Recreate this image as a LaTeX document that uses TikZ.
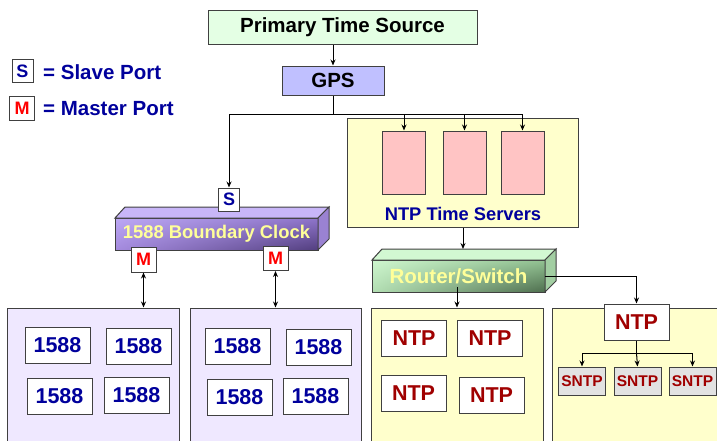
\documentclass[tikz,border=0pt]{standalone}
\usepackage{fontspec}
\setmainfont{Liberation Sans}
\usetikzlibrary{arrows.meta,shadings}

\definecolor{boxline}{HTML}{404040}
\definecolor{navy}{HTML}{00009C}
\definecolor{darkred}{HTML}{A00000}
\definecolor{srcgreen}{HTML}{E4FFE4}
\definecolor{gpsblue}{HTML}{C0C0FF}
\definecolor{paleyellow}{HTML}{FFFFCC}
\definecolor{palepink}{HTML}{FFC4C4}
\definecolor{palelilac}{HTML}{EFE8FF}
\definecolor{sntpgray}{HTML}{E2E2E2}
\definecolor{clocktop}{HTML}{C8B6F8}
\definecolor{clockside}{HTML}{9A82D2}
\definecolor{clockul}{HTML}{BCA8F4}
\definecolor{clockur}{HTML}{8E74CA}
\definecolor{clockll}{HTML}{A48ADE}
\definecolor{clocklr}{HTML}{523E7E}
\definecolor{routertop}{HTML}{D2F8D2}
\definecolor{routerside}{HTML}{A2CEA2}
\definecolor{routerul}{HTML}{CEF6CE}
\definecolor{routerur}{HTML}{92C292}
\definecolor{routerll}{HTML}{B2DEB2}
\definecolor{routerlr}{HTML}{4E6E4E}
\definecolor{labelyellow}{HTML}{FFFF99}

\tikzset{
  box/.style={draw=boxline, line width=1pt, inner sep=0pt,
    font=\bfseries\fontsize{20.5}{24}\selectfont},
  portbox/.style={box, fill=white, minimum width=21pt, minimum height=23pt,
    font=\bfseries\fontsize{18}{20}\selectfont},
  panel/.style={box, minimum width=172pt, minimum height=134pt},
  ieeebox/.style={box, fill=white, minimum width=65pt, minimum height=36pt,
    text=navy, font=\bfseries\fontsize{21.5}{24}\selectfont},
  ntpbox/.style={box, fill=white, minimum width=65pt, minimum height=36pt,
    text=darkred, font=\bfseries\fontsize{21.5}{24}\selectfont},
  sntpbox/.style={box, fill=sntpgray, minimum width=47pt, minimum height=28pt,
    text=darkred, font=\bfseries\fontsize{15.5}{18}\selectfont},
  serverbox/.style={box, fill=palepink, minimum width=43pt, minimum height=63pt},
  link/.style={line width=1pt, -{Stealth[length=6pt,width=5pt]}},
  twoway/.style={line width=1pt, {Stealth[length=6pt,width=5pt]}-{Stealth[length=6pt,width=5pt]}}
}

\begin{document}
\begin{tikzpicture}[x=1pt, y=-1pt]
  \useasboundingbox (0,0) rectangle (717,440);

  % Legend
  \node[portbox, text=navy] (legs) at (22.5,71) {S};
  \node[portbox, text=red, minimum width=25pt, minimum height=24pt] (legm) at (22,108) {M};
  \node[anchor=west, inner sep=0pt, text=navy, font=\bfseries\fontsize{20.5}{24}\selectfont]
    (slave) at (43,72) {= Slave Port};
  \node[anchor=west, inner sep=0pt, text=navy, font=\bfseries\fontsize{20.5}{24}\selectfont]
    (master) at (43,109) {= Master Port};

  % Top of the tree
  \node[box, fill=srcgreen, minimum width=269pt, minimum height=34pt] (pts) at (342.5,27) {Primary Time Source};
  \node[box, fill=gpsblue, minimum width=102pt, minimum height=29pt] (gps) at (333,80.5) {GPS};

  % NTP time servers
  \node[box, fill=paleyellow, minimum width=231pt, minimum height=109pt] (ntpsrv) at (462.5,172.5) {};
  \node[serverbox] (srv1) at (404,162.5) {};
  \node[serverbox] (srv2) at (464.5,162.5) {};
  \node[serverbox] (srv3) at (522.5,162.5) {};
  \node[text=navy, inner sep=0pt, font=\bfseries\fontsize{18.3}{22}\selectfont] (srvlabel) at (463,214) {NTP Time Servers};

  % Boundary clock (3D bar)
  \shade[upper left=clockul, upper right=clockur, lower left=clockll, lower right=clocklr]
    (115,218) rectangle (318,250);
  \draw[boxline, line width=1pt] (115,218) rectangle (318,250);
  \filldraw[fill=clocktop, draw=boxline, line width=1pt] (115,218) -- (125,207) -- (329,207) -- (318,218) -- cycle;
  \filldraw[fill=clockside, draw=boxline, line width=1pt] (318,218) -- (329,207) -- (329,239) -- (318,250) -- cycle;
  \node[minimum width=203pt, minimum height=32pt, inner sep=0pt, text=labelyellow,
    font=\bfseries\fontsize{18.4}{22}\selectfont] (clock) at (216.5,234) {1588 Boundary Clock};

  % Ports on the boundary clock
  \node[portbox, text=navy] (sport) at (229,199.5) {S};
  \node[portbox, text=red, minimum width=25pt, minimum height=25pt] (mport1) at (143.5,259.5) {M};
  \node[portbox, text=red, minimum width=25pt, minimum height=24pt] (mport2) at (275.5,258.5) {M};

  % Router/Switch (3D bar)
  \shade[upper left=routerul, upper right=routerur, lower left=routerll, lower right=routerlr]
    (372,260) rectangle (545,292);
  \draw[boxline, line width=1pt] (372,260) rectangle (545,292);
  \filldraw[fill=routertop, draw=boxline, line width=1pt] (372,260) -- (382,249) -- (556,249) -- (545,260) -- cycle;
  \filldraw[fill=routerside, draw=boxline, line width=1pt] (545,260) -- (556,249) -- (556,281) -- (545,292) -- cycle;
  \node[minimum width=173pt, minimum height=32pt, inner sep=0pt, text=labelyellow,
    font=\bfseries\fontsize{20.5}{24}\selectfont] (router) at (458.5,276) {Router/Switch};

  % Bottom panels
  \node[panel, fill=palelilac] (p1) at (93,375) {};
  \node[panel, fill=palelilac, minimum width=171pt] (p2) at (275.5,375) {};
  \node[panel, fill=paleyellow] (p3) at (457,375) {};
  \node[panel, fill=paleyellow, minimum width=175pt] (p4) at (639.5,375) {};

  % 1588 clocks
  \node[ieeebox] (c11) at (57.5,345) {1588};
  \node[ieeebox] (c12) at (138.5,346) {1588};
  \node[ieeebox] (c13) at (59.5,396) {1588};
  \node[ieeebox] (c14) at (136.5,395) {1588};
  \node[ieeebox] (c21) at (237.5,346) {1588};
  \node[ieeebox] (c22) at (318.5,347) {1588};
  \node[ieeebox] (c23) at (239.5,397) {1588};
  \node[ieeebox] (c24) at (315.5,396) {1588};

  % NTP clients
  \node[ntpbox] (n1) at (414,338.5) {NTP};
  \node[ntpbox] (n2) at (490,338.5) {NTP};
  \node[ntpbox] (n3) at (413.5,393.5) {NTP};
  \node[ntpbox] (n4) at (491.5,395) {NTP};
  \node[ntpbox] (ntpbig) at (636.5,322) {NTP};
  \node[sntpbox] (sntp1) at (582,381) {SNTP};
  \node[sntpbox] (sntp2) at (637.5,381) {SNTP};
  \node[sntpbox] (sntp3) at (692.5,381) {SNTP};

  % Connectors
  \coordinate (split) at (333,114);
  \coordinate (rtop) at (463,249);
  \coordinate (nsplit) at (636.5,353);
  \draw[link] (pts.south -| gps.north) -- (gps.north);
  \draw[line width=1pt] (gps.south) -- (split);
  \draw[link] (split) -| (sport.north);
  \draw[link] (split) -| (srv3.north);
  \draw[link] (srv1.north |- split) -- (srv1.north);
  \draw[link] (srv2.north |- split) -- (srv2.north);
  \draw[link] (ntpsrv.south -| rtop) -- (rtop);
  \draw[twoway] (mport1.south) -- (mport1.south |- p1.north);
  \draw[twoway] (mport2.south) -- (mport2.south |- p2.north);
  \draw[link] ([yshift=5pt]p3.north |- router.south) -- (p3.north);
  \draw[link] (router.east) -| (ntpbig.north);
  \draw[line width=1pt] (ntpbig.south) -- (nsplit);
  \draw[link] (nsplit) -| (sntp1.north);
  \draw[link] (nsplit) -| (sntp3.north);
  \draw[link] (nsplit) -- (sntp2.north);
\end{tikzpicture}
\end{document}
